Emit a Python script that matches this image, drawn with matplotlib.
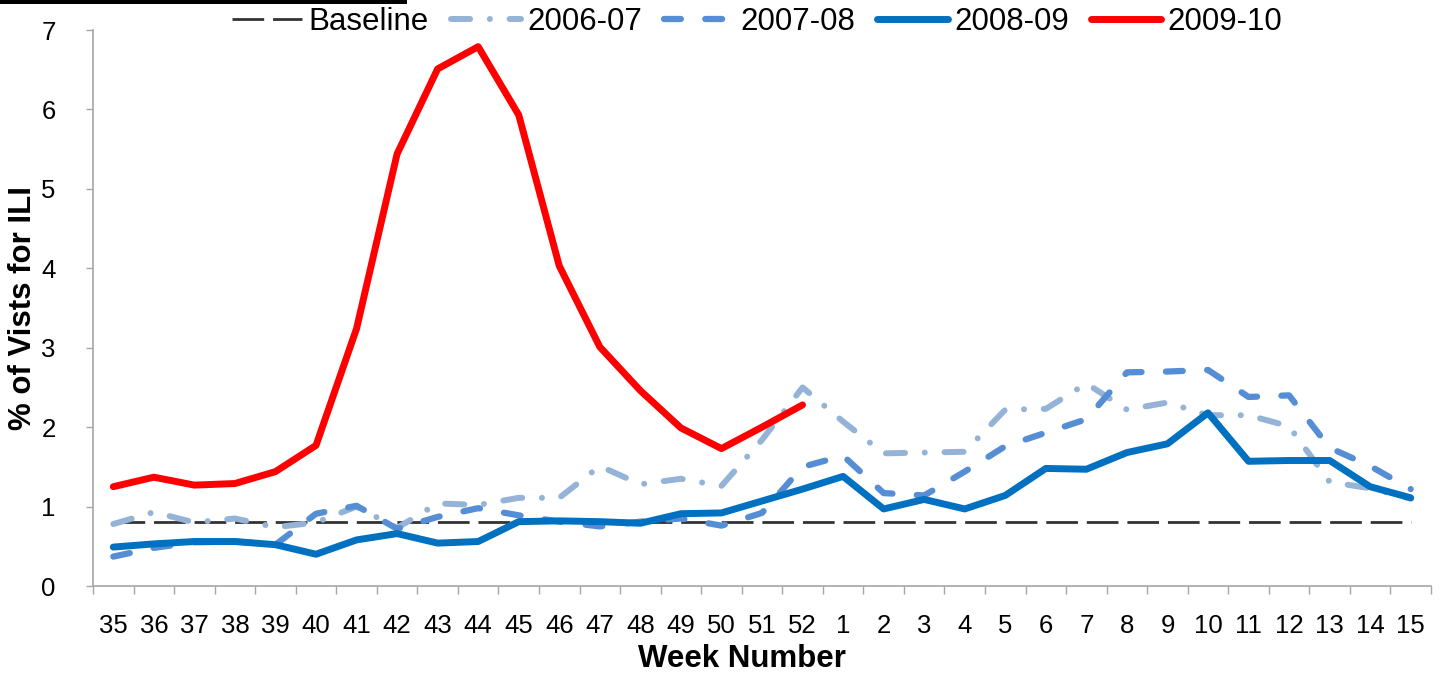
import matplotlib
matplotlib.use('Agg')
import matplotlib.pyplot as plt
from matplotlib.patches import Rectangle

plt.rcParams['font.family'] = ['Liberation Sans', 'DejaVu Sans']

# Week labels (season runs week 35 -> week 15)
weeks = ['35', '36', '37', '38', '39', '40', '41', '42', '43', '44', '45', '46',
         '47', '48', '49', '50', '51', '52', '1', '2', '3', '4', '5', '6', '7',
         '8', '9', '10', '11', '12', '13', '14', '15']

baseline_value = 0.81
baseline = [baseline_value] * len(weeks)

season_0607 = [0.78, 0.93, 0.80, 0.85, 0.74, 0.80, 1.00, 0.73, 1.04, 1.02, 1.11,
               1.11, 1.51, 1.28, 1.35, 1.26, 1.84, 2.50, 2.07, 1.67, 1.68, 1.69,
               2.22, 2.23, 2.55, 2.22, 2.31, 2.15, 2.15, 2.01, 1.31, 1.23, 1.10]

season_0708 = [0.37, 0.48, 0.55, 0.56, 0.52, 0.91, 1.01, 0.72, 0.87, 0.98, 0.89,
               0.81, 0.75, 0.81, 0.85, 0.76, 0.92, 1.50, 1.64, 1.17, 1.14, 1.44,
               1.76, 1.93, 2.10, 2.69, 2.70, 2.72, 2.38, 2.40, 1.74, 1.51, 1.22]

season_0809 = [0.49, 0.53, 0.56, 0.56, 0.52, 0.40, 0.58, 0.66, 0.54, 0.56, 0.81,
               0.82, 0.81, 0.79, 0.91, 0.92, 1.07, 1.22, 1.38, 0.97, 1.09, 0.97,
               1.14, 1.48, 1.47, 1.68, 1.79, 2.18, 1.57, 1.58, 1.58, 1.25, 1.11]

# 2009-10 only has data through week 52
season_0910 = [1.25, 1.37, 1.27, 1.29, 1.44, 1.77, 3.24, 5.44, 6.51, 6.79, 5.93,
               4.03, 3.01, 2.46, 1.99, 1.73, 2.00, 2.28]

axis_gray = '#A6A6A6'

fig = plt.figure(figsize=(14.4, 6.75), dpi=100)
ax = fig.add_axes([93 / 1440, 1 - 586 / 675, 1338 / 1440, 556 / 675])

x = list(range(len(weeks)))

ax.plot(x, baseline, color='#333333', linewidth=2.0, dashes=(11.4, 3.2),
        label='Baseline')
ax.plot(x, season_0607, color='#95B3D7', linewidth=4.3,
        dashes=(3.2, 3.3, 0.01, 3.3), dash_capstyle='round',
        dash_joinstyle='round', label='2006-07')
ax.plot(x, season_0708, color='#558ED5', linewidth=4.5, dashes=(2.7, 3.9),
        dash_capstyle='round', dash_joinstyle='round', label='2007-08')
ax.plot(x, season_0809, color='#0070C0', linewidth=5.0,
        solid_capstyle='round', solid_joinstyle='round', label='2008-09')
ax.plot(range(len(season_0910)), season_0910, color='#FF0000', linewidth=5.0,
        solid_capstyle='round', solid_joinstyle='round', label='2009-10')

ax.set_xlim(-0.5, len(weeks) - 0.5)
ax.set_ylim(0, 7)
ax.set_yticks(range(0, 8))

# category labels in the middle, tick marks on the boundaries
ax.set_xticks(x)
ax.set_xticklabels(weeks)
ax.set_xticks([i - 0.5 for i in range(len(weeks) + 1)], minor=True)
ax.tick_params(axis='x', which='major', length=0, pad=20, labelsize=18.5)
ax.tick_params(axis='x', which='minor', length=6, width=1, color=axis_gray,
               direction='out')
ax.tick_params(axis='y', which='major', length=5, width=1, color=axis_gray,
               direction='out', pad=22, labelsize=18.5)

for side in ['top', 'right']:
    ax.spines[side].set_visible(False)
for side in ['left', 'bottom']:
    ax.spines[side].set_color(axis_gray)
    ax.spines[side].set_linewidth(1.2)

fig.text(23 / 1440, 1 - 308 / 675, '% of Vists for ILI', rotation=90,
         ha='center', va='center', fontsize=22.5, fontweight='bold')
fig.text(742 / 1440, 1 - 667 / 675, 'Week Number', ha='center',
         va='baseline', fontsize=22.5, fontweight='bold')

fig.legend(loc='center', bbox_to_anchor=(757 / 1440, 1 - 22 / 675), ncol=5,
           frameon=False, fontsize=22.5, handlelength=2.25, handletextpad=0.2,
           columnspacing=0.7, borderpad=0, borderaxespad=0)

# black bar across the top-left corner
fig.add_artist(Rectangle((0, 1 - 4 / 675), 407 / 1440, 4 / 675,
                         transform=fig.transFigure, color='black', lw=0))

fig.savefig('out.png', dpi=100)
